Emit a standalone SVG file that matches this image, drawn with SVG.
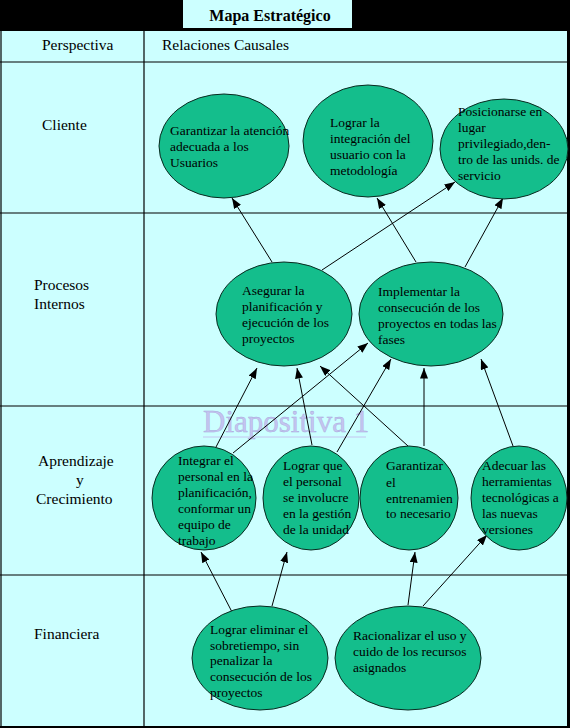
<svg xmlns="http://www.w3.org/2000/svg" width="570" height="728" viewBox="0 0 570 728">
<style>
.lbl{font-family:"Liberation Serif","Times New Roman",serif;font-size:15.5px;fill:#000}
.nt{font-family:"Liberation Serif","Times New Roman",serif;font-size:13.5px;fill:#000}
.ell{fill:#14BE8C;stroke:#0a2a20;stroke-width:1}
.grid{stroke:#000;stroke-width:1.2;fill:none}
.conn{stroke:#000;stroke-width:1;fill:none;marker-end:url(#ah)}
</style>
<defs>
<marker id="ah" markerUnits="userSpaceOnUse" markerWidth="11" markerHeight="8" refX="10.5" refY="4" orient="auto">
<path d="M0,0 L10.5,4 L0,8 z" fill="#000"/>
</marker>
</defs>
<rect x="0" y="0" width="570" height="728" fill="#CCFFFF"/>
<rect x="0" y="0" width="570" height="31" fill="#000"/>
<rect x="183" y="0" width="169" height="28" fill="#CCFFFF"/>
<rect x="567" y="0" width="3" height="728" fill="#000"/>
<rect x="0" y="726" width="570" height="2" fill="#000"/>
<g id="table">
<line class="grid" x1="1" y1="31" x2="1" y2="727"/>
<line class="grid" x1="144" y1="31" x2="144" y2="727"/>
<line class="grid" x1="0" y1="62" x2="568" y2="62"/>
<line class="grid" x1="0" y1="213" x2="568" y2="213"/>
<line class="grid" x1="0" y1="406" x2="568" y2="406"/>
<line class="grid" x1="0" y1="575" x2="568" y2="575"/>
</g>
<text x="270" y="21" text-anchor="middle" font-family="Liberation Serif, Times New Roman, serif" font-size="16" font-weight="bold">Mapa Estratégico</text>
<g id="labels">
<text class="lbl" x="42" y="50">Perspectiva</text>
<text class="lbl" x="162" y="50">Relaciones Causales</text>
<text class="lbl" x="42" y="130">Cliente</text>
<text class="lbl" x="34" y="290">Procesos</text>
<text class="lbl" x="34" y="309">Internos</text>
<text class="lbl" x="38" y="466">Aprendizaje</text>
<text class="lbl" x="76" y="485">y</text>
<text class="lbl" x="36" y="504">Crecimiento</text>
<text class="lbl" x="34" y="639">Financiera</text>
</g>
<g id="watermark">
<text x="203" y="432" font-family="Liberation Serif, Times New Roman, serif" font-size="31" fill="#C4C4F0" stroke="#A8A8DC" stroke-width="0.4">Diapositiva 1</text>
<line x1="203" y1="437" x2="366" y2="437" stroke="#C4C4F0" stroke-width="1"/>
</g>
<g id="connectors">
<line class="conn" x1="272" y1="262" x2="232" y2="198"/>
<line class="conn" x1="322" y1="270" x2="455" y2="182"/>
<line class="conn" x1="416" y1="262" x2="377" y2="198"/>
<line class="conn" x1="465" y1="267" x2="503" y2="198"/>
<line class="conn" x1="216" y1="447" x2="257" y2="368"/>
<line class="conn" x1="233" y1="453" x2="368" y2="343"/>
<line class="conn" x1="312" y1="445" x2="297" y2="368"/>
<line class="conn" x1="337" y1="452" x2="391" y2="359"/>
<line class="conn" x1="408" y1="446" x2="320" y2="366"/>
<line class="conn" x1="424" y1="446" x2="424" y2="368"/>
<line class="conn" x1="513" y1="446" x2="481" y2="359"/>
<line class="conn" x1="232" y1="612" x2="201" y2="552"/>
<line class="conn" x1="272" y1="606" x2="287" y2="552"/>
<line class="conn" x1="408" y1="605" x2="415" y2="552"/>
<line class="conn" x1="423" y1="606" x2="487" y2="535"/>
</g>
<g id="n1">
<ellipse class="ell" cx="224" cy="146" rx="65" ry="52"/>
<text class="nt" x="170" y="135">Garantizar la atención</text>
<text class="nt" x="170" y="151">adecuada a los</text>
<text class="nt" x="170" y="167">Usuarios</text>
</g>
<g id="n2">
<ellipse class="ell" cx="368" cy="141" rx="65" ry="56"/>
<text class="nt" x="330" y="127">Lograr la</text>
<text class="nt" x="330" y="143">integración del</text>
<text class="nt" x="330" y="159">usuario con la</text>
<text class="nt" x="330" y="175">metodología</text>
</g>
<g id="n3">
<ellipse class="ell" cx="504" cy="149" rx="64" ry="50"/>
<text class="nt" x="458" y="116">Posicionarse en</text>
<text class="nt" x="458" y="132">lugar</text>
<text class="nt" x="458" y="148">privilegiado,den-</text>
<text class="nt" x="458" y="164">tro de las unids. de</text>
<text class="nt" x="458" y="180">servicio</text>
</g>
<g id="n4">
<ellipse class="ell" cx="284" cy="314" rx="68" ry="52"/>
<text class="nt" x="242" y="295">Asegurar la</text>
<text class="nt" x="242" y="311">planificación y</text>
<text class="nt" x="242" y="327">ejecución de los</text>
<text class="nt" x="242" y="343">proyectos</text>
</g>
<g id="n5">
<ellipse class="ell" cx="431" cy="314" rx="72" ry="52"/>
<text class="nt" x="378" y="296">Implementar la</text>
<text class="nt" x="378" y="312">consecución de los</text>
<text class="nt" x="378" y="328">proyectos en todas las</text>
<text class="nt" x="378" y="344">fases</text>
</g>
<g id="n6">
<ellipse class="ell" cx="204" cy="498" rx="52" ry="52"/>
<text class="nt" x="178" y="465">Integrar el</text>
<text class="nt" x="178" y="481">personal en la</text>
<text class="nt" x="178" y="497">planificación,</text>
<text class="nt" x="178" y="513">conformar un</text>
<text class="nt" x="178" y="529">equipo de</text>
<text class="nt" x="178" y="545">trabajo</text>
</g>
<g id="n7">
<ellipse class="ell" cx="311" cy="498" rx="48" ry="52"/>
<text class="nt" x="283" y="470">Lograr que</text>
<text class="nt" x="283" y="486">el personal</text>
<text class="nt" x="283" y="502">se involucre</text>
<text class="nt" x="283" y="518">en la gestión</text>
<text class="nt" x="283" y="534">de la unidad</text>
</g>
<g id="n8">
<ellipse class="ell" cx="409" cy="498" rx="49" ry="52"/>
<text class="nt" x="386" y="470">Garantizar</text>
<text class="nt" x="386" y="487">el</text>
<text class="nt" x="386" y="503">entrenamien</text>
<text class="nt" x="386" y="518">to necesario</text>
</g>
<g id="n9">
<ellipse class="ell" cx="519" cy="498" rx="48" ry="52"/>
<text class="nt" x="482" y="470">Adecuar las</text>
<text class="nt" x="482" y="486">herramientas</text>
<text class="nt" x="482" y="502">tecnológicas a</text>
<text class="nt" x="482" y="518">las nuevas</text>
<text class="nt" x="482" y="534">versiones</text>
</g>
<g id="n10">
<ellipse class="ell" cx="260" cy="658" rx="68" ry="52"/>
<text class="nt" x="210" y="634">Lograr eliminar el</text>
<text class="nt" x="210" y="650">sobretiempo, sin</text>
<text class="nt" x="210" y="665">penalizar la</text>
<text class="nt" x="210" y="681">consecución de los</text>
<text class="nt" x="210" y="697">proyectos</text>
</g>
<g id="n11">
<ellipse class="ell" cx="408" cy="658" rx="73" ry="52"/>
<text class="nt" x="353" y="640">Racionalizar el uso y</text>
<text class="nt" x="353" y="656">cuido de los recursos</text>
<text class="nt" x="353" y="672">asignados</text>
</g>
</svg>
